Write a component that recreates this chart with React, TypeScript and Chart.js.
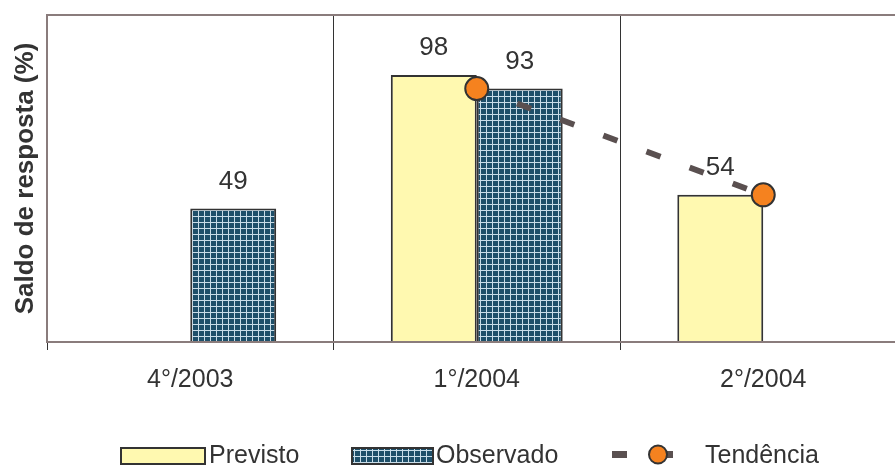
import React, { useEffect, useRef } from "react";
import { Chart, registerables } from "chart.js";

Chart.register(...registerables);

const categories = ["4°/2003", "1°/2004", "2°/2004"];
const previsto: (number | null)[] = [null, 98, 54];
const observado: (number | null)[] = [49, 93, null];
const tendencia: (number | null)[] = [null, 93, 54];
const seriesNames = ["Previsto", "Observado", "Tendência"];
const yMax = 120;

const FONT = '"Liberation Sans", Arial, sans-serif';
const TEXT = "#333333";
const YELLOW = "#FFF9B0";
const EDGE = "#333333";
const ORANGE = "#F5821F";
const TREND = "#5A5050";
const FRAME = "#8A7C7C";

function makePattern(ctx: CanvasRenderingContext2D) {
  const c = document.createElement("canvas");
  c.width = 6;
  c.height = 6;
  const g = c.getContext("2d")!;
  g.fillStyle = "#1E4F69";
  g.fillRect(0, 0, 6, 6);
  g.fillStyle = "#C9DDE8";
  g.fillRect(0, 0, 6, 1);
  g.fillRect(0, 0, 1, 6);
  return ctx.createPattern(c, "repeat")!;
}

const valueLabels = {
  id: "valueLabels",
  afterDatasetsDraw(chart: any) {
    const ctx = chart.ctx;
    ctx.save();
    ctx.font = `26px ${FONT}`;
    ctx.fillStyle = TEXT;
    ctx.textAlign = "center";
    ctx.textBaseline = "middle";
    chart.data.datasets.forEach((ds: any, i: number) => {
      if (ds.type === "line") return;
      const meta = chart.getDatasetMeta(i);
      meta.data.forEach((el: any, j: number) => {
        const v = ds.data[j];
        if (v == null) return;
        ctx.fillText(String(v), el.x, el.y - 27);
      });
    });
    ctx.restore();
  },
};

const customLegend = {
  id: "customLegend",
  afterDraw(chart: any) {
    const ctx = chart.ctx;
    const pattern = chart.$pattern;
    ctx.save();
    ctx.font = `25px ${FONT}`;
    ctx.fillStyle = TEXT;
    ctx.textBaseline = "middle";
    ctx.textAlign = "left";
    const cy = 456;
    // Previsto
    ctx.fillStyle = YELLOW;
    ctx.fillRect(121, 448, 84, 16);
    ctx.strokeStyle = EDGE;
    ctx.lineWidth = 2;
    ctx.strokeRect(121, 448, 84, 16);
    ctx.fillStyle = TEXT;
    ctx.fillText(seriesNames[0], 209, cy);
    // Observado
    if (pattern) {
      ctx.fillStyle = pattern;
      ctx.fillRect(352, 448, 81, 16);
    }
    ctx.strokeStyle = EDGE;
    ctx.strokeRect(352, 448, 81, 16);
    ctx.fillStyle = TEXT;
    ctx.fillText(seriesNames[1], 436, cy);
    // Tendência
    ctx.fillStyle = TREND;
    ctx.fillRect(612, 451, 15, 7);
    ctx.fillRect(660, 451, 13, 7);
    ctx.beginPath();
    ctx.arc(658, 454.5, 9, 0, Math.PI * 2);
    ctx.fillStyle = ORANGE;
    ctx.fill();
    ctx.lineWidth = 2;
    ctx.strokeStyle = EDGE;
    ctx.stroke();
    ctx.fillStyle = TEXT;
    ctx.fillText(seriesNames[2], 705, cy);
    ctx.restore();
  },
};

export default function App() {
  const ref = useRef<HTMLCanvasElement>(null);
  useEffect(() => {
    const canvas = ref.current!;
    const ctx = canvas.getContext("2d")!;
    const pattern = makePattern(ctx);
    const chart: any = new Chart(canvas, {
      type: "bar",
      data: {
        labels: categories,
        datasets: [
          {
            type: "line",
            label: seriesNames[2],
            data: tendencia,
            borderColor: TREND,
            borderWidth: 6,
            borderDash: [15, 31],
            borderDashOffset: 3,
            borderCapStyle: "butt",
            pointRadius: 11.5,
            pointHoverRadius: 11.5,
            pointBackgroundColor: ORANGE,
            pointBorderColor: EDGE,
            pointBorderWidth: 2,
            fill: false,
            order: 0,
          } as any,
          {
            type: "bar",
            label: seriesNames[0],
            data: previsto,
            backgroundColor: YELLOW,
            borderColor: EDGE,
            borderWidth: 2,
            order: 1,
          },
          {
            type: "bar",
            label: seriesNames[1],
            data: observado,
            backgroundColor: pattern,
            borderColor: EDGE,
            borderWidth: 2,
            order: 1,
          },
        ],
      },
      options: {
        animation: false,
        responsive: true,
        maintainAspectRatio: false,
        layout: { padding: { top: 15, right: 5, left: 0, bottom: 0 } },
        datasets: {
          bar: { categoryPercentage: 0.6, barPercentage: 1.0 },
        } as any,
        plugins: {
          legend: { display: false },
          tooltip: { enabled: false },
        },
        scales: {
          x: {
            offset: true,
            grid: {
              offset: true,
              color: "#333333",
              lineWidth: 1,
              tickLength: 8,
              drawOnChartArea: true,
            },
            border: { display: true, color: FRAME, width: 2 },
            ticks: {
              color: TEXT,
              font: { family: FONT, size: 25 },
              padding: 15,
            },
            afterFit: (s: any) => {
              s.height = 124;
            },
          },
          y: {
            min: 0,
            max: yMax,
            grid: {
              color: (c: any) => (c.tick && c.tick.value === yMax ? FRAME : "rgba(0,0,0,0)"),
              lineWidth: 2,
              drawTicks: false,
            },
            border: { display: true, color: FRAME, width: 2 },
            ticks: { display: false, stepSize: yMax },
            title: {
              display: true,
              text: "Saldo de resposta (%)",
              color: TEXT,
              font: { family: FONT, size: 26, weight: "bold" },
              padding: { top: 10, bottom: 0 },
            },
            afterFit: (s: any) => {
              s.width = 47;
            },
          },
        },
      },
      plugins: [valueLabels, customLegend],
    });
    chart.$pattern = pattern;
    chart.draw();
    return () => chart.destroy();
  }, []);
  return (
    <div
      style={{
        position: "absolute",
        left: 0,
        top: 0,
        width: 895,
        height: 466,
        overflow: "hidden",
        background: "#fff",
      }}
    >
      <div style={{ position: "relative", width: 920, height: 466 }}>
        <canvas ref={ref} />
      </div>
    </div>
  );
}
